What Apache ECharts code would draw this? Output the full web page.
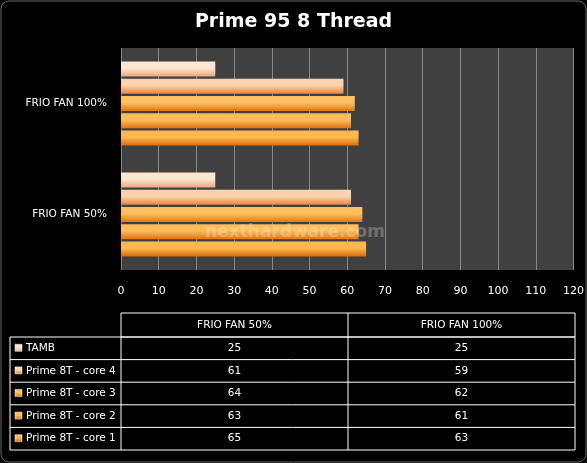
<!DOCTYPE html><html><head><meta charset="utf-8">
<script src="https://cdn.jsdelivr.net/npm/echarts@6/dist/echarts.min.js"></script>
<style>html,body{margin:0;background:#000}#c{width:587px;height:463px}</style></head><body><div id="c"></div>
<script>
const categories = ["FRIO FAN 50%", "FRIO FAN 100%"];
const seriesNames = ["TAMB", "Prime 8T - core 4", "Prime 8T - core 3", "Prime 8T - core 2", "Prime 8T - core 1"];
const tamb = [25, 25];
const core4 = [61, 59];
const core3 = [64, 62];
const core2 = [63, 61];
const core1 = [65, 63];
const values = [tamb, core4, core3, core2, core1];
const colors = [["#fde6d2","#e8a878"],["#fbd2ae","#e8843c"],["#ffc060","#e07810"],["#ffbc58","#de7410"],["#ffb850","#d86c0c"]];

const chart = echarts.init(document.getElementById('c'));
function grad(c){return new echarts.graphic.LinearGradient(0,0,0,1,[{offset:0,color:c[0]},{offset:0.45,color:c[0]},{offset:1,color:c[1]}]);}
const series = [];
for (let i = 0; i < seriesNames.length; i++) {
  series.push({name:seriesNames[i],type:'bar',data:values[i],barWidth:15,barGap:'15%',z:5,
    itemStyle:{color:grad(colors[i])}});
}
const g = [];
const tx0=10, tx1=121, tx2=348, tx3=575, ty0=313, hh=24, rh=22.6;
const line='#ffffff';
const F='10.5px "DejaVu Sans"';
g.push({type:'rect',shape:{x:tx1,y:ty0,width:tx3-tx1,height:hh},style:{fill:'none',stroke:line,lineWidth:1}});
g.push({type:'line',shape:{x1:tx2,y1:ty0,x2:tx2,y2:ty0+hh+rh*5},style:{stroke:line}});
g.push({type:'rect',shape:{x:tx0,y:ty0+hh,width:tx3-tx0,height:rh*5},style:{fill:'none',stroke:line}});
g.push({type:'line',shape:{x1:tx1,y1:ty0+hh,x2:tx1,y2:ty0+hh+rh*5},style:{stroke:line}});
categories.forEach((c,j)=>{
  const cx = j===0?(tx1+tx2)/2:(tx2+tx3)/2;
  g.push({type:'text',style:{text:c,x:cx,y:ty0+hh/2,fill:'#fff',font:F,align:'center',verticalAlign:'middle'}});
});
seriesNames.forEach((n,i)=>{
  const y = ty0+hh+rh*i;
  if(i>0) g.push({type:'line',shape:{x1:tx0,y1:y,x2:tx3,y2:y},style:{stroke:line}});
  g.push({type:'rect',shape:{x:tx0+5,y:y+rh/2-4,width:7,height:7},style:{fill:grad(colors[i]),stroke:'#fff',lineWidth:0.5}});
  g.push({type:'text',style:{text:n,x:tx0+16,y:y+rh/2,fill:'#fff',font:F,verticalAlign:'middle'}});
  categories.forEach((c,j)=>{
    const cx = j===0?(tx1+tx2)/2:(tx2+tx3)/2;
    g.push({type:'text',style:{text:String(values[i][j]),x:cx,y:y+rh/2,fill:'#fff',font:F,align:'center',verticalAlign:'middle'}});
  });
});
g.push({type:'text',z:100,style:{text:'nexthardware.com',x:295,y:233,fill:'rgba(255,255,255,0.25)',font:'bold 17px "DejaVu Sans"',align:'center',verticalAlign:'middle'}});
g.push({type:'rect',shape:{x:1,y:1,width:585,height:461,r:8},style:{fill:'none',stroke:'#666',lineWidth:1}});

chart.setOption({
  backgroundColor:'#000',
  animation:false,
  title:{text:'Prime 95 8 Thread',left:'center',top:8,textStyle:{color:'#fff',fontSize:19,fontWeight:'bold',fontFamily:'DejaVu Sans'}},
  grid:{left:121,right:12,top:48,bottom:193,backgroundColor:'#404040',show:true,borderWidth:0},
  xAxis:{type:'value',min:0,max:120,interval:10,
    axisLabel:{color:'#fff',fontSize:11,margin:16,fontFamily:'DejaVu Sans'},
    splitLine:{lineStyle:{color:'#888'}},axisLine:{show:false},axisTick:{show:false}},
  yAxis:{type:'category',data:categories,axisLabel:{color:'#fff',fontSize:10.5,margin:14,fontFamily:'DejaVu Sans'},
    axisLine:{show:false},axisTick:{show:false}},
  series:series,
  graphic:g
});
</script></body></html>
